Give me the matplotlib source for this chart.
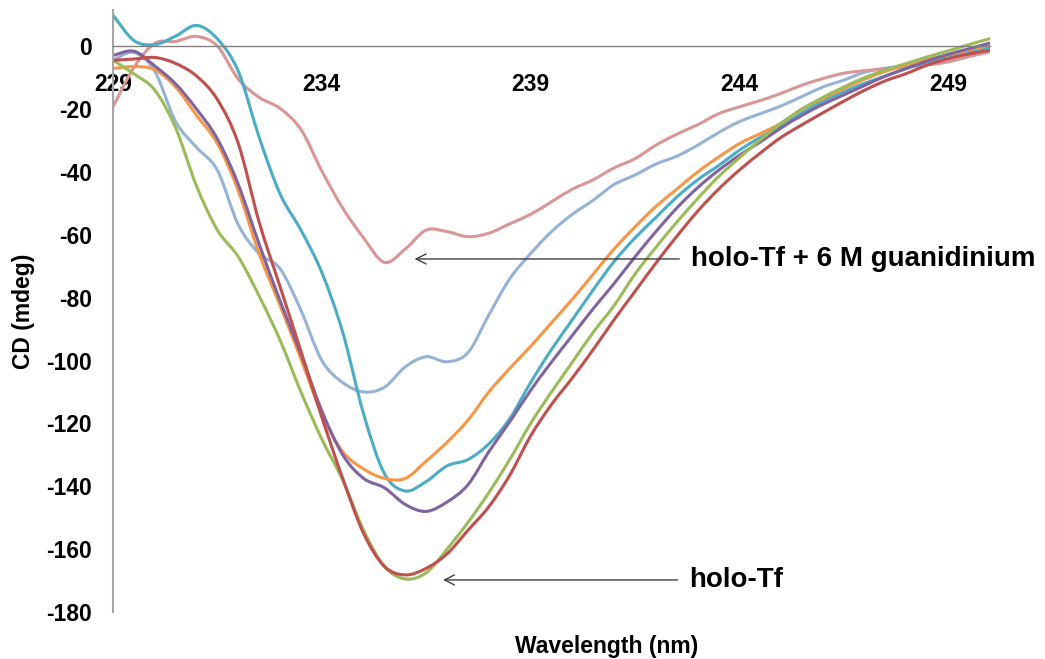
import matplotlib
matplotlib.use('Agg')
import matplotlib.pyplot as plt
from matplotlib.path import Path
from matplotlib.patches import PathPatch

plt.rcParams['font.family'] = ['Liberation Sans', 'DejaVu Sans']

wavelength = [229, 229.5, 230, 230.5, 231, 231.5, 232, 232.5, 233, 233.5, 234, 234.5,
              235, 235.5, 236, 236.5, 237, 237.5, 238, 238.5, 239, 239.5, 240, 240.5,
              241, 241.5, 242, 242.5, 243, 243.5, 244, 244.5, 245, 245.5, 246, 246.5,
              247, 247.5, 248, 248.5, 249, 249.5, 250]

teal = [9.9, 1.8, 0.5, 3.2, 6.6, 2.3, -8, -29, -47, -58.5, -72, -91, -117, -136, -141.5,
        -138.5, -133.5, -131.5, -126.5, -118.5, -107, -96.5, -87, -77.5, -68.5, -61, -54.5,
        -48, -42.5, -38, -33.1, -29, -25.3, -21.2, -17.5, -14.5, -11.8, -9.5, -7.1, -5,
        -3.3, -1.8, -0.2]
rose = [-19.3, -6.8, 0.9, 1.5, 3.1, 0, -10.5, -16.3, -19.8, -26.5, -39.7, -51.5, -61,
        -68.8, -64.5, -58.5, -59, -60.6, -59.5, -56.5, -53.5, -49.5, -45.5, -42.5, -38.7,
        -35.8, -31.5, -28, -25, -21.5, -19.3, -17.3, -15, -12.4, -10.3, -8.6, -7.8, -7.2,
        -6.6, -6, -5, -3.3, -1.8]
lightblue = [-4.5, -2.0, -8, -24, -32.2, -39.5, -56.8, -66, -70.8, -84, -100, -107, -110,
             -108.5, -102, -98.8, -100.4, -97.5, -85.5, -74, -66, -59, -53.5, -49, -44,
             -41, -37.5, -35, -31.5, -27.5, -24, -21.5, -19, -16, -13, -10.8, -8.3, -7,
             -6, -4.5, -3, -1.8, -0.7]
orange = [-7.1, -6.5, -7.5, -13, -22, -31, -46, -66, -82.5, -99.5, -117, -129, -134.5,
          -137.5, -137.5, -132, -126, -119, -110, -102.5, -95.5, -88, -80.5, -72.5, -64.5,
          -57.5, -51, -45.5, -40, -35.3, -31, -27.8, -24.5, -20, -16.7, -13.5, -10.5, -8,
          -6, -4.2, -2.8, -1.2, 0.3]
purple = [-3, -1.6, -6.3, -12, -20, -29.5, -44, -63, -81, -98, -116, -130, -137.5, -140.5,
          -145.8, -148, -145, -139.5, -129, -119.5, -109.5, -100.5, -92, -83.5, -75.5,
          -67, -59, -51.5, -45, -39.5, -34.7, -30.5, -26, -22, -18.5, -15.5, -12.5, -9.5,
          -7.1, -4.7, -2.6, -0.8, 1.0]
green = [-4.5, -8.8, -14, -26, -44.5, -58.5, -67, -79.5, -93.5, -110, -125, -138, -154,
         -165.5, -169.5, -167.5, -160, -151.5, -142, -131.5, -120, -110, -100.5, -91, -82.5,
         -72.5, -64, -56, -48.5, -41.5, -35.5, -29.8, -24.5, -20, -16.3, -13, -10, -7.6,
         -5.5, -3.4, -1.5, 0.5, 2.4]
red = [-4.5, -4.1, -3.6, -5.5, -9.5, -17, -31, -56, -76.5, -97, -118, -137.5, -155, -165.5,
       -168.2, -166.1, -161.5, -154, -146.5, -136.5, -124, -114, -105.5, -96.5, -87, -78,
       -69, -60.5, -52.5, -45.5, -39.4, -34, -29, -25, -21.2, -17.5, -14, -11, -8.7, -6, -4,
       -2.5, -1.3]

series = [
    (lightblue, '#95B3D7'),
    (rose, '#D99694'),
    (teal, '#4BACC6'),
    (orange, '#F79646'),
    (purple, '#8064A2'),
    (green, '#9BBB59'),
    (red, '#C0504D'),
]

xticks = [229, 234, 239, 244, 249]
yticks = [0, -20, -40, -60, -80, -100, -120, -140, -160, -180]


def smooth_path(xs, ys):
    """Excel-style smoothed line: cubic Bezier segments through every data point."""
    pts = list(zip(xs, ys))
    n = len(pts)
    verts = [pts[0]]
    codes = [Path.MOVETO]
    for i in range(n - 1):
        p0 = pts[i - 1] if i > 0 else pts[i]
        p1 = pts[i]
        p2 = pts[i + 1]
        p3 = pts[i + 2] if i + 2 < n else pts[i + 1]
        c1 = (p1[0] + (p2[0] - p0[0]) / 6.0, p1[1] + (p2[1] - p0[1]) / 6.0)
        c2 = (p2[0] - (p3[0] - p1[0]) / 6.0, p2[1] - (p3[1] - p1[1]) / 6.0)
        verts += [c1, c2, p2]
        codes += [Path.CURVE4] * 3
    return Path(verts, codes)


fig = plt.figure(figsize=(10.45, 6.59), dpi=100)
ax = fig.add_axes([113 / 1045, 1 - 612 / 659, (990 - 113) / 1045, (612 - 10) / 659])

for vals, col in series:
    ax.add_patch(PathPatch(smooth_path(wavelength, vals), fill=False, edgecolor=col,
                           lw=2.2, joinstyle='round', capstyle='round', zorder=2))

ax.set_xlim(229, 250)
ax.set_ylim(-180, 11.5)

ax.spines['top'].set_visible(False)
ax.spines['right'].set_visible(False)
ax.spines['bottom'].set_position(('data', 0))
ax.spines['bottom'].set_color('#808080')
ax.spines['bottom'].set_linewidth(1.0)
ax.spines['left'].set_color('#A6A6A6')
ax.spines['left'].set_linewidth(1.5)

ax.set_xticks(xticks)
ax.set_xticklabels([str(t) for t in xticks])
ax.set_yticks(yticks)
ax.set_yticklabels([str(t) for t in yticks])
ax.tick_params(axis='x', length=0, pad=19, labelsize=16.5)
ax.tick_params(axis='y', length=0, pad=15, labelsize=16.5)
for lab in ax.get_xticklabels() + ax.get_yticklabels():
    lab.set_fontweight('bold')

ax.set_ylabel('CD (mdeg)', fontsize=16.5, fontweight='bold', labelpad=8)
fig.text(607 / 1045, 1 - 647 / 659, 'Wavelength (nm)', fontsize=16.5,
         fontweight='bold', ha='center', va='center')

arrow_kw = dict(arrowstyle='->', color='#404040', lw=1.0, mutation_scale=18,
                shrinkA=0, shrinkB=0)
ax.annotate('', xy=(236.22, -67.7), xytext=(242.56, -67.7), arrowprops=arrow_kw)
ax.text(242.85, -67.7, 'holo-Tf + 6 M guanidinium', fontsize=20, fontweight='bold',
        ha='left', va='center')
ax.annotate('', xy=(236.9, -169.8), xytext=(242.52, -169.8), arrowprops=arrow_kw)
ax.text(242.8, -169.8, 'holo-Tf', fontsize=20, fontweight='bold',
        ha='left', va='center')

fig.savefig('out.png', dpi=100)
